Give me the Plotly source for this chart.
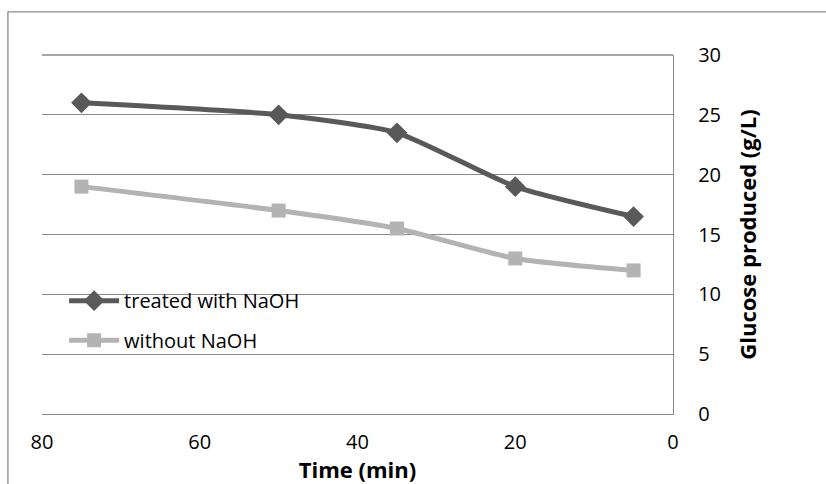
import plotly.graph_objects as go

time_min = [75, 50, 35, 20, 5]
treated = [26, 25, 23.5, 19, 16.5]
without = [19, 17, 15.5, 13, 12]
x_ticks = [80, 60, 40, 20, 0]
y_ticks = [0, 5, 10, 15, 20, 25, 30]

FONT = "Open Sans"
GRID = "#898989"
FS = 20
TFS = 22

fig = go.Figure()
fig.add_trace(go.Scatter(
    x=time_min, y=treated, name="treated with NaOH", mode="lines+markers",
    line=dict(color="#595959", width=5, shape="spline", smoothing=0.6),
    marker=dict(symbol="diamond", size=16, color="#595959"),
    legend="legend"))
fig.add_trace(go.Scatter(
    x=time_min, y=without, name="without NaOH", mode="lines+markers",
    line=dict(color="#B3B3B3", width=5, shape="spline", smoothing=0.6),
    marker=dict(symbol="square", size=14, color="#B3B3B3"),
    legend="legend2"))

fig.update_layout(
    width=826, height=484,
    margin=dict(l=42, r=153, t=55, b=70),
    paper_bgcolor="white", plot_bgcolor="white",
    font=dict(family=FONT, size=FS, color="black"),
    legend=dict(x=0.035, y=0.37, xanchor="left", yanchor="top",
                bgcolor="rgba(0,0,0,0)", font=dict(size=FS), itemwidth=50),
    legend2=dict(x=0.035, y=0.26, xanchor="left", yanchor="top",
                 bgcolor="rgba(0,0,0,0)", font=dict(size=FS), itemwidth=50),
    xaxis=dict(range=[80, 0], tickvals=x_ticks, showgrid=False,
               zeroline=False, showline=True, linecolor=GRID, linewidth=1.3,
               ticks="", tickfont=dict(size=FS), automargin=False,
               ticklabelstandoff=10,
               title=dict(text="<b>Time (min)</b>", font=dict(size=TFS), standoff=4)),
    yaxis=dict(range=[0, 30], tickvals=y_ticks, side="right",
               showgrid=True, gridcolor=GRID, gridwidth=1.3,
               zeroline=False, showline=True, linecolor=GRID, linewidth=1.3,
               ticks="", tickfont=dict(size=FS), ticklabelstandoff=20,
               automargin=False,
               title=dict(text="<b>Glucose produced (g/L)</b>", font=dict(size=TFS), standoff=20)),
    showlegend=True,
)

# top edge of plot area (gridline at 30)
fig.add_shape(type="line", xref="paper", yref="paper", x0=0, x1=1, y0=1, y1=1,
              line=dict(color=GRID, width=1.3), layer="below")

# outer chart-area border
fig.add_shape(type="rect", xref="paper", yref="paper",
              x0=-0.054, x1=1.5, y0=-0.5, y1=1.12,
              line=dict(color="#8c8c8c", width=1.3), layer="below")

fig.write_html("out.html")
